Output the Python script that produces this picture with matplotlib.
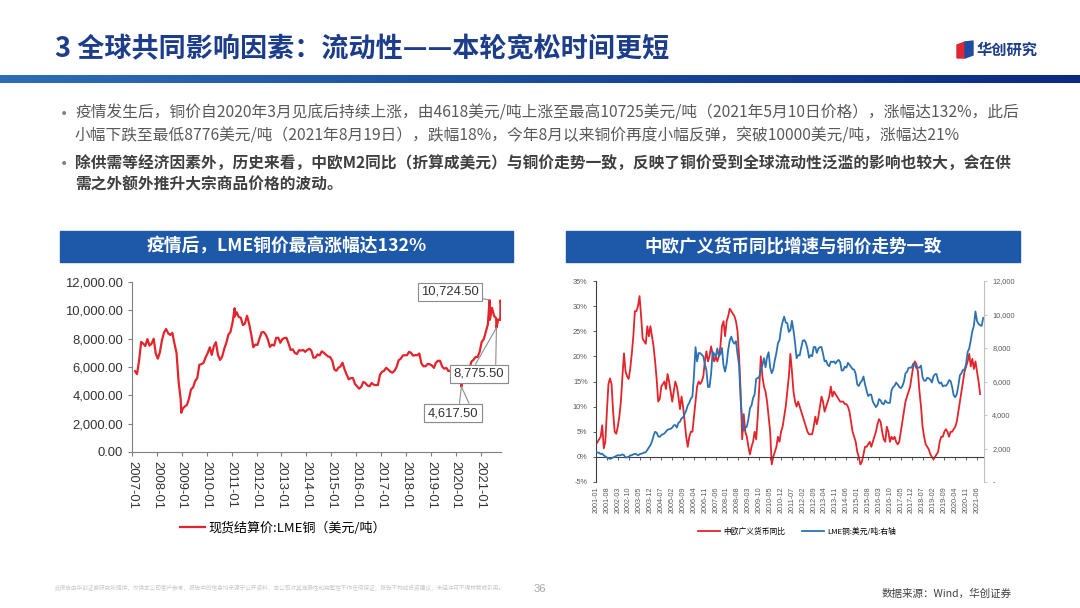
import numpy as np
import pandas as pd
import matplotlib
matplotlib.use('Agg')
import matplotlib.pyplot as plt
from matplotlib.patches import Rectangle, Polygon
from matplotlib.colors import LinearSegmentedColormap

plt.rcParams['font.family'] = ['Noto Sans CJK SC', 'DejaVu Sans']
plt.rcParams['axes.unicode_minus'] = False

W, H = 1080, 608
NUM_FONT = 'Liberation Sans'

TITLE = '3 全球共同影响因素：流动性——本轮宽松时间更短'
BULLETS = [
    ('疫情发生后，铜价自2020年3月见底后持续上涨，由4618美元/吨上涨至最高10725美元/吨（2021年5月10日价格），涨幅达132%，此后', False),
    ('小幅下跌至最低8776美元/吨（2021年8月19日），跌幅18%，今年8月以来铜价再度小幅反弹，突破10000美元/吨，涨幅达21%', False),
    ('除供需等经济因素外，历史来看，中欧M2同比（折算成美元）与铜价走势一致，反映了铜价受到全球流动性泛滥的影响也较大，会在供', True),
    ('需之外额外推升大宗商品价格的波动。', True),
]
LEFT_TITLE = '疫情后，LME铜价最高涨幅达132%'
RIGHT_TITLE = '中欧广义货币同比增速与铜价走势一致'

# left chart: LME copper spot settlement, monthly readings 2007-01 .. 2021-10
lme_spot = [
    5700, 5500, 6450, 7770, 7650, 7480, 7970, 7510, 7650, 8000, 6960, 6590,
    7060, 7890, 8440, 8680, 8380, 8260, 8410, 7640, 6990, 4930, 3720, 3070,
    3220, 3310, 3750, 4410, 4570, 5010, 5220, 6160, 6200, 6290, 6680, 6980,
    7390, 6850, 7460, 7750, 6840, 6500, 6730, 7280, 7710, 8290, 8470, 9150,
    9560, 9870, 9530, 9480, 8960, 9060, 9620, 9040, 8310, 7390, 7580, 7560,
    8040, 8440, 8470, 8290, 7950, 7420, 7580, 7510, 8060, 8060, 7710, 7970,
    8050, 8060, 7650, 7200, 7250, 7000, 6910, 7190, 7160, 7200, 7070, 7210,
    7290, 7150, 6650, 6670, 6890, 6820, 7110, 7000, 6870, 6740, 6710, 6450,
    5830, 5730, 5940, 6040, 6300, 5830, 5460, 5130, 5220, 5220, 4800, 4640,
    4470, 4600, 4950, 4870, 4690, 4640, 4870, 4750, 4720, 4730, 5450, 5660,
    5740, 5940, 5820, 5680, 5600, 5720, 5990, 6480, 6580, 6810, 6830, 6830,
    7070, 7000, 6800, 6840, 6830, 6950, 6250, 6050, 6050, 6220, 6190, 6110,
    5940, 6300, 6440, 6440, 6030, 5880, 5940, 5710, 5760, 5740, 5860, 6080,
    6030, 5680, 5180, 5060, 5240, 5750, 6370, 6500, 6700, 6700, 7060, 7770,
    7970, 8460, 9000, 9330, 10180, 9610, 9440, 9360, 9320, 9800,
]
spot_start = '2007-01-15'
# single days that stand out on the daily line
key_days = ['2008-12-24', '2011-02-14', '2020-03-23', '2021-05-10', '2021-08-19', '2021-10-18']
key_vals = [2770, 10148, 4617.5, 10724.5, 8775.5, 10700]
LEFT_LEGEND = '现货结算价:LME铜（美元/吨）'

# right chart: monthly 2001-01 ..
m2_yoy = [
    2.5, 3, 3.5, 4, 6.3, 1.7, 3, 9, 14.5, 15.6, 14.5, 9,
    5, 4.6, 6, 8, 11, 16, 20.6, 17, 16, 15.5, 17.5, 20.5,
    24, 29, 29, 30, 32, 28, 23.5, 23, 22.5, 26, 24, 26,
    24, 22, 19, 15.5, 11, 11.5, 14, 14.5, 15, 13.5, 16.5, 15,
    13, 11, 13, 15, 14, 12, 9.5, 12, 10, 7, 4, 2,
    4, 5, 5, 8, 11, 14, 15, 14.5, 15, 16, 19, 21,
    19, 20, 22, 20.5, 19, 20, 19, 20, 22, 26, 27, 24,
    27, 28, 29.5, 29, 28.5, 28, 27, 25, 20, 13, 3.5, 8.5,
    5, 4, 2, 0.5, 2, 3, 5, 3.5, 8, 14, 20, 16,
    14, 13, 11, 8, 5, -1.5, 0, 1, 2, 4, 3, 5,
    6, 8, 10, 13, 16, 20.5, 17, 13, 11, 10, 11, 10,
    9, 8, 7, 6, 5, 4.5, 4.5, 4.5, 6, 8, 6.5, 8,
    10, 12, 11, 9, 10, 11, 12, 14, 12, 13, 12.5, 12,
    11.5, 11, 11, 11, 10.5, 10.5, 10, 9, 7, 5, 4, 3,
    1, 0, -1.5, -1, 0.5, 2, 2, 2.5, 3, 2, 3, 4,
    5, 6.5, 7.5, 7, 5, 3.5, 3, 6, 5, 3, 4, 3.5,
    4, 3, 2.5, 3, 5, 7, 9, 11, 12, 13, 14, 16,
    18, 19, 18.5, 17, 13, 10, 6, 4, 2.5, 2, 1.5, 0.5,
    0, -0.5, 0, 0.5, 1, 3, 4, 4, 5, 5.5, 5, 4,
    5, 5, 5.5, 6, 7, 9, 11, 13, 15, 17, 18, 19,
    20.5, 18, 19.5, 17.5, 19, 17, 15, 12.5,
]
lme_monthly = [
    1780, 1760, 1740, 1670, 1690, 1590, 1530, 1460, 1420, 1380, 1410, 1470,
    1500, 1560, 1600, 1590, 1600, 1650, 1600, 1460, 1480, 1500, 1590, 1600,
    1650, 1680, 1660, 1590, 1650, 1690, 1710, 1760, 1780, 1920, 2060, 2200,
    2420, 2760, 3000, 2940, 2730, 2690, 2800, 2850, 2900, 3010, 3120, 3150,
    3170, 3250, 3380, 3400, 3250, 3530, 3600, 3800, 3860, 4060, 4270, 4580,
    4730, 4980, 5100, 6380, 8050, 7200, 7700, 7690, 7600, 7500, 7030, 6680,
    5670, 5680, 6450, 7770, 7650, 7480, 7970, 7510, 7650, 8000, 6960, 6590,
    7060, 7890, 8440, 8680, 8380, 8260, 8410, 7640, 6990, 4930, 3720, 3070,
    3220, 3310, 3750, 4410, 4570, 5010, 5220, 6160, 6200, 6290, 6680, 6980,
    7390, 6850, 7460, 7750, 6840, 6500, 6730, 7280, 7710, 8290, 8470, 9150,
    9560, 9870, 9530, 9480, 8960, 9060, 9620, 9040, 8310, 7390, 7580, 7560,
    8040, 8440, 8470, 8290, 7950, 7420, 7580, 7510, 8060, 8060, 7710, 7970,
    8050, 8060, 7650, 7200, 7250, 7000, 6910, 7190, 7160, 7200, 7070, 7210,
    7290, 7150, 6650, 6670, 6890, 6820, 7110, 7000, 6870, 6740, 6710, 6450,
    5830, 5730, 5940, 6040, 6300, 5830, 5460, 5130, 5220, 5220, 4800, 4640,
    4470, 4600, 4950, 4870, 4690, 4640, 4870, 4750, 4720, 4730, 5450, 5660,
    5740, 5940, 5820, 5680, 5600, 5720, 5990, 6480, 6580, 6810, 6830, 6830,
    7070, 7000, 6800, 6840, 6830, 6950, 6250, 6050, 6050, 6220, 6190, 6110,
    5940, 6300, 6440, 6440, 6030, 5880, 5940, 5710, 5760, 5740, 5860, 6080,
    6030, 5680, 5180, 5060, 5240, 5750, 6370, 6500, 6700, 6700, 7060, 7770,
    7970, 8460, 9000, 9330, 10180, 9610, 9440, 9360, 9320, 9800,
]
RIGHT_LEGEND = ['中欧广义货币同比', 'LME铜:美元/吨:右轴']

DISCLAIMER = ('此报告由华创证券研究所提供，仅供本公司客户参考，报告中的信息均来源于公开资料，'
              '本公司对其准确性和完整性不作任何保证，报告不构成投资建议，未经许可不得转载或引用。')
PAGE = '36'
SOURCE = '数据来源：Wind，华创证券'

RED = '#E3242B'
BLUE = '#2C72B2'
HEAD_BLUE = '#1E58A8'
NAVY = '#1C3C8C'


def frac(x, y):
    return x / W, 1 - y / H


def ax_rect(l, t, r, b):
    return [l / W, 1 - b / H, (r - l) / W, (b - t) / H]


fig = plt.figure(figsize=(W / 100, H / 100), dpi=100)
fig.patch.set_facecolor('white')

# slide layer in pixel coords, origin top-left
bg = fig.add_axes([0, 0, 1, 1])
bg.axis('off')
grad = np.linspace(0, 1, 256).reshape(1, -1)
cmap = LinearSegmentedColormap.from_list('bar', ['#2E6DB6', '#1A4C9E', '#0B2A84'])
bg.imshow(grad, extent=[0, W, 83.5, 75.5], aspect='auto', cmap=cmap)
bg.set_xlim(0, W)
bg.set_ylim(H, 0)

bg.text(55, 49, TITLE, fontsize=19.5, weight='bold', color=NAVY, va='center')
bg.add_patch(Polygon([[957, 45], [965, 42], [965, 58], [957, 58]], closed=True, color='#E02630'))
bg.add_patch(Polygon([[965, 42], [973, 41], [973, 55], [965, 58]], closed=True, color='#1F4C9E'))
bg.text(977, 50, '华创研究', fontsize=11, weight='bold', color=NAVY, va='center')

ys = [113, 136, 163, 185]
for (line, bold), y in zip(BULLETS, ys):
    bg.text(75, y, line, fontsize=11.3, color='#3F3F3F' if bold else '#595959',
            weight='bold' if bold else 'normal', va='center')
for y in [114, 164]:
    bg.text(64, y, '•', fontsize=10, color='#7F7F7F', va='center', ha='center', family='DejaVu Sans')

bg.add_patch(Rectangle((60, 231), 453, 31, color=HEAD_BLUE))
bg.text(287, 246.5, LEFT_TITLE, fontsize=12.8, weight='bold', color='white', ha='center', va='center')
bg.add_patch(Rectangle((566, 231), 454, 31, color=HEAD_BLUE))
bg.text(793, 246.5, RIGHT_TITLE, fontsize=12.6, weight='bold', color='white', ha='center', va='center')

bg.text(55, 588, DISCLAIMER, fontsize=4.1, color='#C8C8C8', va='center')
bg.text(534, 589, PAGE, fontsize=8, color='#A6A6A6', va='center', family=NUM_FONT)
bg.text(1012, 594, SOURCE, fontsize=7.6, color='#404040', va='center', ha='right')

# ---- left chart
spot = pd.Series(lme_spot, index=pd.date_range(spot_start, periods=len(lme_spot), freq='MS') + pd.Timedelta(days=14))
spot = pd.concat([spot, pd.Series(key_vals, index=pd.to_datetime(key_days))]).sort_index()

ax1 = fig.add_axes(ax_rect(132, 282, 501, 452))
ax1.plot(spot.index, spot.values, color=RED, lw=1.6, label=LEFT_LEGEND)
ax1.set_xlim(pd.Timestamp('2007-01-01'), pd.Timestamp('2021-10-25'))
ax1.set_ylim(0, 12000)
ax1.set_yticks(range(0, 12001, 2000))
ax1.set_yticklabels([f'{v:,.2f}' for v in range(0, 12001, 2000)])
xt = pd.date_range('2007-01-01', '2021-01-01', freq='YS')
ax1.set_xticks(xt)
ax1.set_xticklabels([d.strftime('%Y-%m') for d in xt], rotation=-90)
for s in ['top', 'right']:
    ax1.spines[s].set_visible(False)
for s in ['left', 'bottom']:
    ax1.spines[s].set_color('#7F7F7F')
ax1.tick_params(colors='#7F7F7F', length=3, width=0.8, labelcolor='#333333', labelsize=9.4)
for lab in ax1.get_xticklabels() + ax1.get_yticklabels():
    lab.set_family(NUM_FONT)
ax1.legend(loc='center', bbox_to_anchor=frac(283, 528), bbox_transform=fig.transFigure,
           frameon=False, fontsize=9.4, handlelength=1.9, handletextpad=0.3)

box = dict(boxstyle='square,pad=0.25', fc='white', ec='#8C8C8C', lw=0.8)
line = dict(arrowstyle='-', color='#8C8C8C', lw=0.8, shrinkA=0, shrinkB=0)


def label(day, val, px, py, rels):
    for rp in rels:
        ax1.annotate(f'{val:,.2f}', xy=(pd.Timestamp(day), val), xytext=(px, H - py),
                     textcoords='figure pixels', ha='center', va='center', fontsize=9.4,
                     family=NUM_FONT, color='#333333', bbox=box,
                     arrowprops=dict(line, relpos=rp))


label(key_days[3], key_vals[3], 450, 292, [(1.0, 0.0)])
label(key_days[4], key_vals[4], 479, 374, [(0.39, 1.0), (0.83, 1.0)])
label(key_days[2], key_vals[2], 453, 413, [(0.62, 1.0), (0.85, 1.0)])

# ---- right chart
months = pd.period_range('2001-01', periods=len(lme_monthly), freq='M')
ax2 = fig.add_axes(ax_rect(596, 281, 984, 482))
ax2.spines['bottom'].set_position(('data', 0))
ax2.plot(range(len(m2_yoy)), m2_yoy, color=RED, lw=1.3, label=RIGHT_LEGEND[0])
ax2.set_xlim(0, 249.5)
ax2.set_ylim(-5, 35)
ax2.set_yticks(range(-5, 36, 5))
ax2.set_yticklabels([f'{v}%' for v in range(-5, 36, 5)])
ticks = list(range(0, 246, 7))
ax2.set_xticks(ticks)
ax2.set_xticklabels([str(months[i]) for i in ticks], rotation=90)
ax2.spines['bottom'].set_color('#404040')
ax2.spines['left'].set_color('#404040')
for s in ['top', 'right']:
    ax2.spines[s].set_visible(False)
ax2.tick_params(axis='x', length=2.5, width=0.6, pad=19, labelsize=5.2, colors='#404040', labelcolor='#595959')
ax2.tick_params(axis='y', length=2.5, width=0.6, labelsize=5.3, colors='#404040', labelcolor='#595959')

ax3 = ax2.twinx()
ax3.plot(range(len(lme_monthly)), lme_monthly, color=BLUE, lw=1.3, label=RIGHT_LEGEND[1])
ax3.set_ylim(0, 12000)
ax3.set_yticks(range(0, 12001, 2000))
ax3.set_yticklabels(['-' if v == 0 else f'{v:,}' for v in range(0, 12001, 2000)])
for s in ['top', 'left', 'bottom']:
    ax3.spines[s].set_visible(False)
ax3.spines['right'].set_color('#BFBFBF')
ax3.tick_params(axis='y', length=2.5, width=0.6, labelsize=5.3, colors='#BFBFBF', labelcolor='#595959')
for a in (ax2, ax3):
    for lab in a.get_xticklabels() + a.get_yticklabels():
        lab.set_family(NUM_FONT)

h1, l1 = ax2.get_legend_handles_labels()
h2, l2 = ax3.get_legend_handles_labels()
ax3.legend(h1 + h2, l1 + l2, loc='center', bbox_to_anchor=frac(797, 532), bbox_transform=fig.transFigure,
           frameon=False, ncol=2, fontsize=5.6, handlelength=2.8, handletextpad=0.4, columnspacing=2.2)

fig.savefig('out.png', dpi=100, facecolor='white')
